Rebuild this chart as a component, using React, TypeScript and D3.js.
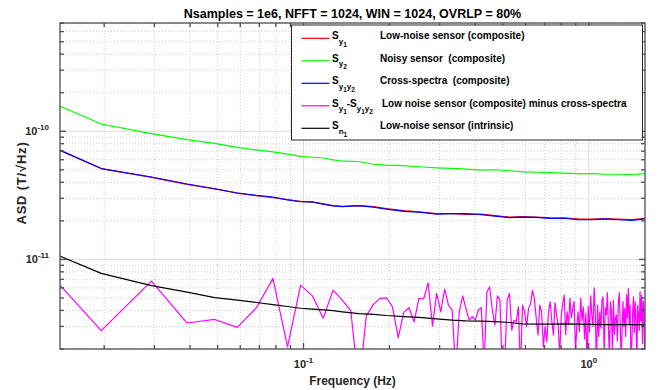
import React, { useEffect, useRef } from 'react';
import * as d3 from 'd3';

// Welch PSD parameters (bin spacing = FS / NFFT)
const FS = 10;
const NFFT = 1024;

const smoothBins = [1, 2, 3, 4, 5, 6, 7, 8, 9, 10, 11, 12, 13, 14, 16, 18, 20, 23, 26, 30, 34, 38, 43, 48, 54, 60, 67, 75, 84, 94, 105, 117, 130, 145, 161];

// ASD values in units of 1e-11 T/sqrt(Hz)
const sy1 = [10.14, 5.12, 4.37, 3.85, 3.55, 3.29, 3.14, 3.03, 2.93, 2.84, 2.80, 2.71, 2.63, 2.59, 2.63, 2.58, 2.49, 2.40, 2.35, 2.28, 2.28, 2.25, 2.26, 2.20, 2.14, 2.16, 2.14, 2.11, 2.10, 2.07, 2.06, 2.08, 2.06, 2.05, 2.09];
const sy2 = [22.3, 11.4, 9.6, 8.6, 8.04, 7.48, 7.15, 6.90, 6.64, 6.38, 6.27, 6.19, 5.99, 5.84, 5.81, 5.53, 5.45, 5.39, 5.29, 5.19, 5.13, 5.06, 4.97, 5.01, 4.92, 4.83, 4.79, 4.75, 4.71, 4.67, 4.68, 4.62, 4.62, 4.60, 4.67];
const sy1y2 = [10.14, 5.12, 4.40, 3.88, 3.56, 3.30, 3.16, 3.07, 2.92, 2.82, 2.81, 2.70, 2.62, 2.58, 2.63, 2.56, 2.47, 2.37, 2.34, 2.26, 2.28, 2.28, 2.24, 2.18, 2.12, 2.14, 2.13, 2.09, 2.10, 2.04, 2.04, 2.07, 2.04, 2.02, 2.07];
const sn1 = [1.484, 0.778, 0.625, 0.556, 0.504, 0.482, 0.461, 0.444, 0.429, 0.416, 0.410, 0.404, 0.398, 0.390, 0.378, 0.373, 0.365, 0.358, 0.353, 0.344, 0.336, 0.332, 0.330, 0.327, 0.322, 0.314, 0.313, 0.313, 0.314, 0.313, 0.311, 0.310, 0.310, 0.310, 0.309];

// Sy1 - Sy1y2, one value per bin 1..161 (values under 0.2 fall below the axis)
const diffVals = [
  1.53, 0.278, 0.678, 0.319, 0.340, 0.295, 0.420, 0.711, 0.208, 0.630,
  0.520, 0.347, 0.576, 0.482, 0.398, 0.10, 0.363, 0.446, 0.497, 0.502,
  0.427, 0.245, 0.386, 0.420, 0.326, 0.497, 0.491, 0.657, 0.302, 0.543,
  0.390, 0.587, 0.440, 0.403, 0.13, 0.390, 0.520, 0.415, 0.336, 0.357,
  0.336, 0.403, 0.420, 0.15, 0.556, 0.612, 0.403, 0.307, 0.520, 0.482,
  0.12, 0.16, 0.482, 0.543, 0.281, 0.336, 0.326, 0.427, 0.14, 0.440,
  0.390, 0.30, 0.415, 0.45, 0.576, 0.497, 0.35, 0.257, 0.44, 0.390,
  0.208, 0.30, 0.228, 0.39, 0.467, 0.33, 0.257, 0.46, 0.368, 0.31,
  0.18, 0.36, 0.45, 0.527, 0.26, 0.390, 0.31, 0.497, 0.35, 0.415,
  0.47, 0.19, 0.30, 0.390, 0.273, 0.50, 0.33, 0.427, 0.24, 0.38,
  0.15, 0.43, 0.27, 0.52, 0.368, 0.30, 0.601, 0.37, 0.14, 0.44,
  0.25, 0.390, 0.29, 0.48, 0.511, 0.18, 0.42, 0.368, 0.55, 0.30,
  0.17, 0.467, 0.39, 0.19, 0.48, 0.26, 0.347, 0.37, 0.23, 0.454,
  0.55, 0.33, 0.17, 0.273, 0.47, 0.30, 0.415, 0.25, 0.53, 0.35,
  0.594, 0.31, 0.44, 0.17, 0.215, 0.39, 0.51, 0.27, 0.467, 0.33,
  0.16, 0.44, 0.368, 0.28, 0.56, 0.33, 0.527, 0.22, 0.47, 0.415,
  0.12,
];
const diffBins = d3.range(1, diffVals.length + 1);

const UNIT = 1e-11;

const legendLabels = [
  'Low-noise sensor (composite)',
  'Noisy sensor  (composite)',
  'Cross-spectra  (composite)',
  'Low noise sensor (composite) minus cross-spectra',
  'Low-noise sensor (intrinsic)',
];
// symbol pieces: [text, subscript level]
const legendSymbols: [string, number][][] = [
  [['S', 0], ['y', 1], ['1', 2]],
  [['S', 0], ['y', 1], ['2', 2]],
  [['S', 0], ['y', 1], ['1', 2], ['y', 1], ['2', 2]],
  [['S', 0], ['y', 1], ['1', 2], ['-S', 0], ['y', 1], ['1', 2], ['y', 1], ['2', 2]],
  [['S', 0], ['n', 1], ['1', 2]],
];
const colors = ['#ff0000', '#00ff00', '#0000ff', '#ff00ff', '#000000'];

const FONT = "'Liberation Sans', Arial, Helvetica, sans-serif";

const App = () => {
  const ref = useRef<SVGSVGElement>(null);

  useEffect(() => {
    const svg = d3.select(ref.current);
    svg.selectAll('*').remove();

    const W = 664, H = 390;
    const margin = { top: 23, right: 19, bottom: 41, left: 60 };
    const x0 = margin.left, x1 = W - margin.right;
    const y0 = H - margin.bottom, y1 = margin.top;

    const x = d3.scaleLog().domain([0.014, 1.575]).range([x0, x1]);
    const y = d3.scaleLog().domain([2e-12, 7e-10]).range([y0, y1]);

    svg.append('rect').attr('width', W).attr('height', H).attr('fill', '#fff');

    const isMajor = (v: number) => Math.abs(Math.log10(v) - Math.round(Math.log10(v))) < 1e-6;
    const xt = x.ticks();
    const yt = y.ticks();

    // grid
    const grid = svg.append('g');
    xt.forEach(t => {
      grid.append('line')
        .attr('x1', x(t)).attr('x2', x(t)).attr('y1', y0).attr('y2', y1)
        .attr('stroke', isMajor(t) ? '#dcdcdc' : '#cdcdcd')
        .attr('stroke-width', 1)
        .attr('stroke-dasharray', isMajor(t) ? null : '1,2');
    });
    yt.forEach(t => {
      grid.append('line')
        .attr('y1', y(t)).attr('y2', y(t)).attr('x1', x0).attr('x2', x1)
        .attr('stroke', isMajor(t) ? '#dcdcdc' : '#cdcdcd')
        .attr('stroke-width', 1)
        .attr('stroke-dasharray', isMajor(t) ? null : '1,2');
    });

    // series
    svg.append('clipPath').attr('id', 'plot-clip')
      .append('rect').attr('x', x0).attr('y', y1).attr('width', x1 - x0).attr('height', y0 - y1);

    const toPts = (bins: number[], vals: number[]) => bins.map((k, i) => ({ f: k * FS / NFFT, v: vals[i] * UNIT }));
    const series = [
      toPts(smoothBins, sy1),
      toPts(smoothBins, sy2),
      toPts(smoothBins, sy1y2),
      toPts(diffBins, diffVals),
      toPts(smoothBins, sn1),
    ];
    const line = d3.line<{ f: number; v: number }>().x(d => x(d.f)).y(d => y(d.v));
    const lines = svg.append('g').attr('clip-path', 'url(#plot-clip)');
    series.forEach((s, i) => {
      lines.append('path')
        .datum(s)
        .attr('fill', 'none')
        .attr('stroke', colors[i])
        .attr('stroke-width', 1.2)
        .attr('stroke-linejoin', 'round')
        .attr('d', line);
    });

    // box and ticks (inside, mirrored)
    const axes = svg.append('g').attr('stroke', '#4d4d4d').attr('stroke-width', 1.3);
    axes.append('rect').attr('x', x0).attr('y', y1).attr('width', x1 - x0).attr('height', y0 - y1).attr('fill', 'none');
    xt.forEach(t => {
      const len = isMajor(t) ? 6 : 4;
      axes.append('line').attr('x1', x(t)).attr('x2', x(t)).attr('y1', y0).attr('y2', y0 - len);
      axes.append('line').attr('x1', x(t)).attr('x2', x(t)).attr('y1', y1).attr('y2', y1 + len);
    });
    yt.forEach(t => {
      const len = isMajor(t) ? 6 : 4;
      axes.append('line').attr('y1', y(t)).attr('y2', y(t)).attr('x1', x0).attr('x2', x0 + len);
      axes.append('line').attr('y1', y(t)).attr('y2', y(t)).attr('x1', x1).attr('x2', x1 - len);
    });

    // tick labels 10^n
    xt.filter(isMajor).forEach(t => {
      const lbl = svg.append('text')
        .attr('x', x(t)).attr('y', 368)
        .attr('text-anchor', 'middle')
        .attr('font-family', FONT).attr('font-weight', 'bold').attr('font-size', 11)
        .attr('fill', '#262626');
      lbl.append('tspan').text('10');
      lbl.append('tspan').attr('dy', -5).attr('font-size', 8).text(String(Math.round(Math.log10(t))));
    });
    yt.filter(isMajor).forEach(t => {
      const lbl = svg.append('text')
        .attr('x', 49).attr('y', y(t) + 4)
        .attr('text-anchor', 'end')
        .attr('font-family', FONT).attr('font-weight', 'bold').attr('font-size', 11)
        .attr('fill', '#262626');
      lbl.append('tspan').text('10');
      lbl.append('tspan').attr('dy', -5).attr('font-size', 8).text(String(Math.round(Math.log10(t))));
    });

    // titles
    svg.append('text')
      .attr('x', (x0 + x1) / 2).attr('y', 18)
      .attr('text-anchor', 'middle')
      .attr('font-family', FONT).attr('font-weight', 'bold').attr('font-size', 12.5)
      .attr('fill', '#000')
      .text('Nsamples = 1e6, NFFT = 1024, WIN = 1024, OVRLP = 80%');
    svg.append('text')
      .attr('x', (x0 + x1) / 2).attr('y', 385)
      .attr('text-anchor', 'middle')
      .attr('font-family', FONT).attr('font-weight', 'bold').attr('font-size', 12)
      .attr('fill', '#262626')
      .text('Frequency (Hz)');
    svg.append('text')
      .attr('transform', `translate(26,${(y0 + y1) / 2 - 3}) rotate(-90)`)
      .attr('text-anchor', 'middle')
      .attr('font-family', FONT).attr('font-weight', 'bold').attr('font-size', 13)
      .attr('letter-spacing', 0.8)
      .attr('fill', '#262626')
      .text('ASD (T/\u221AHz)');

    // legend
    const legend = svg.append('g');
    legend.append('rect')
      .attr('x', 291.5).attr('y', 25).attr('width', 351).attr('height', 115)
      .attr('fill', '#fff').attr('stroke', '#262626').attr('stroke-width', 1);
    const sizes = [10, 8, 6.5];
    const offs = [0, 4.5, 7.5];
    legendLabels.forEach((label, i) => {
      const ly = 38.3 + i * 22.5;
      legend.append('line')
        .attr('x1', 301.5).attr('x2', 329.5).attr('y1', ly).attr('y2', ly)
        .attr('stroke', colors[i]).attr('stroke-width', 1.2);
      const sym = legend.append('text')
        .attr('x', 332).attr('y', ly + 1)
        .attr('font-family', FONT).attr('font-weight', 'bold').attr('font-size', 10)
        .attr('fill', '#000');
      let level = 0;
      legendSymbols[i].forEach(([txt, lv]) => {
        sym.append('tspan')
          .attr('dy', offs[lv] - offs[level])
          .attr('font-size', sizes[lv])
          .text(txt);
        level = lv;
      });
      legend.append('text')
        .attr('x', i === 3 ? 382 : 380).attr('y', ly + 1)
        .attr('font-family', FONT).attr('font-weight', 'bold').attr('font-size', 10)
        .attr('fill', '#000')
        .style('white-space', 'pre')
        .text(label);
    });
  }, []);

  return (
    <svg ref={ref} width={664} height={390} style={{ position: 'absolute', left: 0, top: 0, display: 'block' }} />
  );
};

export default App;
